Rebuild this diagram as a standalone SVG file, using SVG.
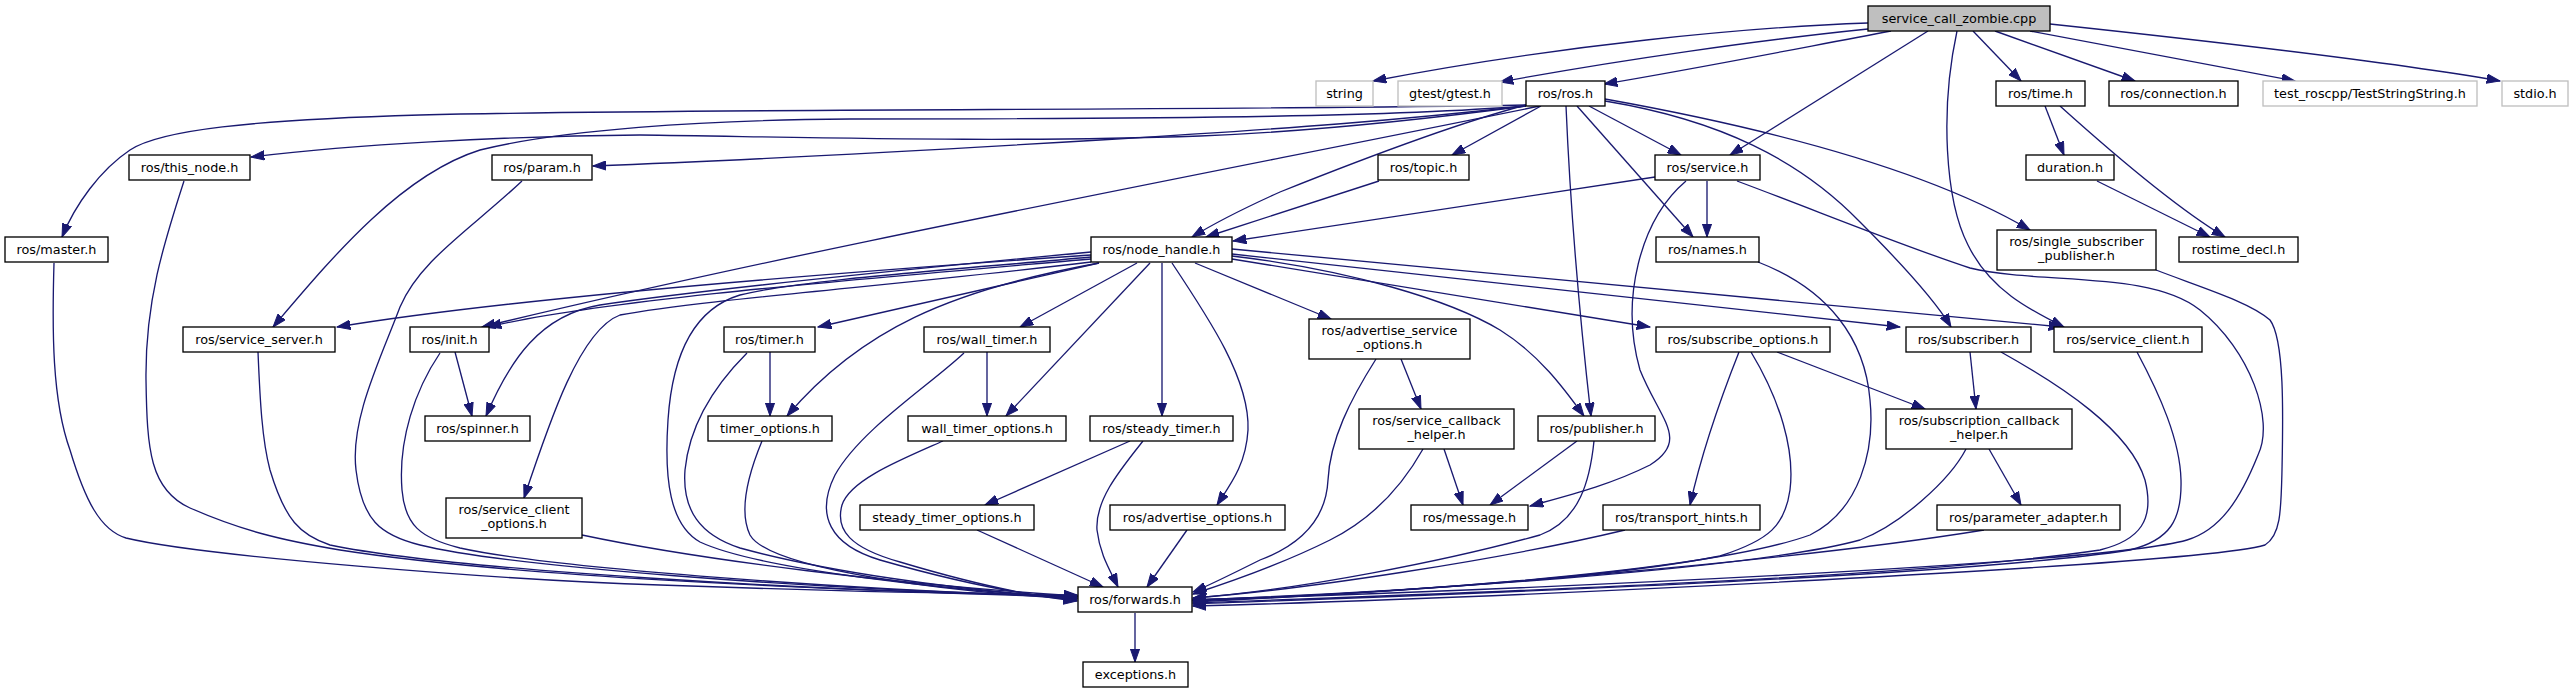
<svg xmlns="http://www.w3.org/2000/svg" width="2574" height="693" viewBox="0 0 2574 693">
<style>
.n rect{fill:#fff;stroke:#000;stroke-width:1.33}
.n.root rect{fill:#bfbfbf}
.n.miss rect{stroke:#bfbfbf}
.n text{font-family:"DejaVu Sans","Liberation Sans",sans-serif;font-size:12.8px;fill:#000;text-anchor:middle}
#edges path{fill:none;stroke:#191970;stroke-width:1.33;marker-end:url(#ah)}
</style>
<defs>
<marker id="ah" markerUnits="userSpaceOnUse" viewBox="0 -5 14 10" refX="13.3" refY="0" markerWidth="14" markerHeight="10" orient="auto">
<path d="M0,-4.7 L13.3,0 L0,4.7 Z" fill="#191970" stroke="#191970" stroke-width="1"/>
</marker>
</defs>
<rect width="2574" height="693" fill="#fff"/>
<g id="edges">
<path d="M1868,23 C1750,27 1560,45 1373,81"/>
<path d="M1868,29 C1760,40 1620,60 1500,82"/>
<path d="M1891,31 C1800,48 1700,68 1604,84"/>
<path d="M1928,31 L1730,155"/>
<path d="M1957,31 C1940,110 1945,200 1968,245 C1990,290 2030,310 2064,327"/>
<path d="M1973,31 L2021,81"/>
<path d="M1995,31 L2135,81"/>
<path d="M2030,31 L2295,81"/>
<path d="M2050,24 C2200,40 2380,60 2500,81"/>
<path d="M1526,105 C1200,111 700,108 420,115 C250,120 160,130 130,150 C100,170 75,205 62,237"/>
<path d="M1526,106 C1420,120 1300,132 1200,136 C1000,143 800,137 640,135 C500,136 350,145 251,157"/>
<path d="M1526,106 C1400,120 1300,128 1100,140 C900,152 700,162 593,166"/>
<path d="M1526,106 C1400,116 1200,119 850,119 C700,120 560,130 480,150 C400,175 330,260 273,327"/>
<path d="M1540,106 C1200,175 800,250 482,327"/>
<path d="M1526,105 C1450,125 1330,172 1280,192 C1240,210 1210,226 1192,237"/>
<path d="M1541,106 L1452,155"/>
<path d="M1589,106 L1681,155"/>
<path d="M1577,106 L1693,237"/>
<path d="M1566,106 C1570,200 1580,320 1591,416"/>
<path d="M1605,99 C1750,125 1920,165 2030,230"/>
<path d="M1605,101 C1720,120 1800,160 1860,222 C1900,262 1935,300 1951,327"/>
<path d="M1379,181 L1206,237"/>
<path d="M1655,177 L1233,241"/>
<path d="M1707,181 L1707,237"/>
<path d="M1686,181 C1640,220 1620,300 1640,370 C1660,420 1690,440 1650,465 C1610,485 1570,495 1530,506"/>
<path d="M1737,181 C1820,212 1900,245 1970,268 C2040,285 2150,270 2200,310 C2250,350 2275,420 2258,455 C2240,500 2220,530 2187,540 C2100,565 1500,590 1193,600"/>
<path d="M2045,106 L2064,155"/>
<path d="M2060,106 C2120,160 2180,210 2225,237"/>
<path d="M2097,181 L2210,237"/>
<path d="M184,181 C165,240 145,300 146,380 C147,450 150,490 190,508 C240,530 280,540 340,550 C500,575 800,590 1077,596"/>
<path d="M54,263 C52,330 52,400 70,450 C85,500 100,530 126,538 C200,556 500,580 660,585 C800,590 950,594 1077,595"/>
<path d="M258,352 C260,400 262,440 270,470 C285,520 300,535 330,545 C450,570 800,590 1077,597"/>
<path d="M522,181 C470,230 420,260 400,307 C380,360 350,420 356,470 C362,520 380,535 420,545 C500,565 800,590 1077,596"/>
<path d="M440,353 C415,390 398,440 402,490 C405,525 420,538 460,548 C550,568 850,590 1077,597"/>
<path d="M455,352 L472,416"/>
<path d="M1091,252 C900,270 700,290 600,305 C540,315 510,360 486,416"/>
<path d="M1091,255 C800,275 500,300 337,327"/>
<path d="M1091,259 C850,280 600,300 488,327"/>
<path d="M1091,262 C900,285 700,300 620,315 C580,330 550,420 524,498"/>
<path d="M1099,263 C950,290 860,330 787,416"/>
<path d="M1099,263 L818,327"/>
<path d="M1091,257 C950,270 800,280 740,295 C690,310 672,360 668,420 C664,480 670,525 700,542 C760,570 950,590 1077,598"/>
<path d="M770,352 L770,416"/>
<path d="M747,353 C720,380 690,420 685,470 C682,510 700,535 740,548 C820,570 950,590 1077,598"/>
<path d="M762,441 C750,470 738,510 750,535 C770,570 950,592 1077,599"/>
<path d="M987,352 L987,416"/>
<path d="M964,353 C930,385 860,430 835,475 C815,515 830,545 880,560 C950,580 1020,595 1077,600"/>
<path d="M943,441 C900,460 850,480 842,505 C835,530 850,548 900,562 C960,580 1020,595 1077,601"/>
<path d="M1137,263 L1020,327"/>
<path d="M1150,263 L1006,416"/>
<path d="M1162,263 L1162,416"/>
<path d="M1130,441 L985,505"/>
<path d="M1143,441 C1120,470 1095,500 1097,530 C1100,555 1110,570 1118,587"/>
<path d="M977,530 L1103,587"/>
<path d="M1172,263 C1210,320 1250,380 1248,430 C1246,465 1230,485 1217,505"/>
<path d="M1187,530 L1147,587"/>
<path d="M1195,263 L1331,319"/>
<path d="M1232,256 C1350,270 1450,300 1500,330 C1540,355 1565,390 1584,416"/>
<path d="M1232,259 L1650,327"/>
<path d="M1232,254 L1900,327"/>
<path d="M1232,249 L2062,327"/>
<path d="M1401,359 L1421,409"/>
<path d="M1376,359 C1350,400 1330,440 1328,480 C1326,520 1300,545 1260,560 C1230,575 1210,585 1193,592"/>
<path d="M1444,449 L1463,505"/>
<path d="M1423,449 C1400,490 1370,520 1330,540 C1280,565 1230,582 1193,594"/>
<path d="M1577,441 L1490,505"/>
<path d="M1594,441 C1590,480 1580,520 1540,535 C1450,560 1300,590 1193,598"/>
<path d="M1739,352 C1720,400 1700,460 1690,505"/>
<path d="M1751,352 C1780,400 1795,450 1790,490 C1785,525 1770,540 1720,556 C1600,580 1350,595 1193,600"/>
<path d="M1777,352 L1925,409"/>
<path d="M1625,530 C1500,560 1300,590 1193,598"/>
<path d="M1758,262 C1830,290 1865,340 1870,400 C1875,450 1860,510 1810,535 C1700,575 1350,595 1193,601"/>
<path d="M1970,352 L1976,409"/>
<path d="M2001,352 C2060,385 2130,430 2145,480 C2155,520 2140,540 2100,550 C1900,580 1400,595 1193,603"/>
<path d="M2137,352 C2160,395 2180,440 2181,480 C2182,520 2170,540 2130,550 C1950,578 1400,596 1193,604"/>
<path d="M2156,270 C2200,287 2250,302 2270,320 C2285,340 2283,420 2282,470 C2281,510 2281,535 2265,545 C2200,565 1500,598 1193,606"/>
<path d="M1989,449 L2021,505"/>
<path d="M1966,449 C1950,480 1900,525 1860,540 C1750,570 1400,592 1193,600"/>
<path d="M1984,530 C1800,560 1450,590 1193,602"/>
<path d="M582,535 C700,560 900,585 1077,596"/>
<path d="M1135,613 L1135,662"/>
</g>
<g id="n_root" class="n root"><rect x="1868" y="6" width="182" height="25"/><text x="1959" y="22.8">service_call_zombie.cpp</text></g>
<g id="n_string" class="n miss"><rect x="1316" y="81" width="57" height="25"/><text x="1344.5" y="97.8">string</text></g>
<g id="n_gtest" class="n miss"><rect x="1398" y="81" width="104" height="25"/><text x="1450" y="97.8">gtest/gtest.h</text></g>
<g id="n_ros" class="n"><rect x="1526" y="81" width="79" height="25"/><text x="1565.5" y="97.8">ros/ros.h</text></g>
<g id="n_time" class="n"><rect x="1996" y="81" width="89" height="25"/><text x="2040.5" y="97.8">ros/time.h</text></g>
<g id="n_connection" class="n"><rect x="2109" y="81" width="129" height="25"/><text x="2173.5" y="97.8">ros/connection.h</text></g>
<g id="n_teststring" class="n miss"><rect x="2263" y="81" width="214" height="25"/><text x="2370" y="97.8">test_roscpp/TestStringString.h</text></g>
<g id="n_stdio" class="n miss"><rect x="2502" y="81" width="66" height="25"/><text x="2535" y="97.8">stdio.h</text></g>
<g id="n_this_node" class="n"><rect x="129" y="155" width="121" height="25"/><text x="189.5" y="171.8">ros/this_node.h</text></g>
<g id="n_param" class="n"><rect x="492" y="155" width="100" height="25"/><text x="542" y="171.8">ros/param.h</text></g>
<g id="n_topic" class="n"><rect x="1378" y="155" width="91" height="25"/><text x="1423.5" y="171.8">ros/topic.h</text></g>
<g id="n_service" class="n"><rect x="1655" y="155" width="105" height="25"/><text x="1707.5" y="171.8">ros/service.h</text></g>
<g id="n_duration" class="n"><rect x="2026" y="155" width="88" height="25"/><text x="2070" y="171.8">duration.h</text></g>
<g id="n_master" class="n"><rect x="5" y="237" width="103" height="25"/><text x="56.5" y="253.8">ros/master.h</text></g>
<g id="n_node_handle" class="n"><rect x="1091" y="237" width="141" height="25"/><text x="1161.5" y="253.8">ros/node_handle.h</text></g>
<g id="n_names" class="n"><rect x="1656" y="237" width="103" height="25"/><text x="1707.5" y="253.8">ros/names.h</text></g>
<g id="n_single_sub" class="n"><rect x="1997" y="230" width="159" height="40"/><text x="2076.5" y="246">ros/single_subscriber</text><text x="2076.5" y="260.3">_publisher.h</text></g>
<g id="n_rostime_decl" class="n"><rect x="2179" y="237" width="119" height="25"/><text x="2238.5" y="253.8">rostime_decl.h</text></g>
<g id="n_service_server" class="n"><rect x="183" y="327" width="152" height="25"/><text x="259" y="343.8">ros/service_server.h</text></g>
<g id="n_init" class="n"><rect x="410" y="327" width="79" height="25"/><text x="449.5" y="343.8">ros/init.h</text></g>
<g id="n_timer" class="n"><rect x="724" y="327" width="91" height="25"/><text x="769.5" y="343.8">ros/timer.h</text></g>
<g id="n_wall_timer" class="n"><rect x="924" y="327" width="126" height="25"/><text x="987" y="343.8">ros/wall_timer.h</text></g>
<g id="n_adv_srv_opts" class="n"><rect x="1309" y="319" width="161" height="40"/><text x="1389.5" y="335">ros/advertise_service</text><text x="1389.5" y="349.3">_options.h</text></g>
<g id="n_subscribe_options" class="n"><rect x="1656" y="327" width="174" height="25"/><text x="1743" y="343.8">ros/subscribe_options.h</text></g>
<g id="n_subscriber" class="n"><rect x="1906" y="327" width="125" height="25"/><text x="1968.5" y="343.8">ros/subscriber.h</text></g>
<g id="n_service_client" class="n"><rect x="2054" y="327" width="148" height="25"/><text x="2128" y="343.8">ros/service_client.h</text></g>
<g id="n_spinner" class="n"><rect x="425" y="416" width="105" height="25"/><text x="477.5" y="432.8">ros/spinner.h</text></g>
<g id="n_timer_options" class="n"><rect x="708" y="416" width="124" height="25"/><text x="770" y="432.8">timer_options.h</text></g>
<g id="n_wall_timer_options" class="n"><rect x="908" y="416" width="158" height="25"/><text x="987" y="432.8">wall_timer_options.h</text></g>
<g id="n_steady_timer" class="n"><rect x="1090" y="416" width="143" height="25"/><text x="1161.5" y="432.8">ros/steady_timer.h</text></g>
<g id="n_srv_cb_helper" class="n"><rect x="1359" y="409" width="155" height="40"/><text x="1436.5" y="425">ros/service_callback</text><text x="1436.5" y="439.3">_helper.h</text></g>
<g id="n_publisher" class="n"><rect x="1538" y="416" width="117" height="25"/><text x="1596.5" y="432.8">ros/publisher.h</text></g>
<g id="n_sub_cb_helper" class="n"><rect x="1886" y="409" width="186" height="40"/><text x="1979" y="425">ros/subscription_callback</text><text x="1979" y="439.3">_helper.h</text></g>
<g id="n_srv_client_opts" class="n"><rect x="446" y="498" width="136" height="40"/><text x="514" y="514">ros/service_client</text><text x="514" y="528.3">_options.h</text></g>
<g id="n_steady_timer_options" class="n"><rect x="860" y="505" width="174" height="25"/><text x="947" y="521.8">steady_timer_options.h</text></g>
<g id="n_advertise_options" class="n"><rect x="1110" y="505" width="175" height="25"/><text x="1197.5" y="521.8">ros/advertise_options.h</text></g>
<g id="n_message" class="n"><rect x="1411" y="505" width="117" height="25"/><text x="1469.5" y="521.8">ros/message.h</text></g>
<g id="n_transport_hints" class="n"><rect x="1603" y="505" width="157" height="25"/><text x="1681.5" y="521.8">ros/transport_hints.h</text></g>
<g id="n_parameter_adapter" class="n"><rect x="1937" y="505" width="183" height="25"/><text x="2028.5" y="521.8">ros/parameter_adapter.h</text></g>
<g id="n_forwards" class="n"><rect x="1078" y="587" width="114" height="25"/><text x="1135" y="603.8">ros/forwards.h</text></g>
<g id="n_exceptions" class="n"><rect x="1083" y="662" width="105" height="25"/><text x="1135.5" y="678.8">exceptions.h</text></g>
</svg>
